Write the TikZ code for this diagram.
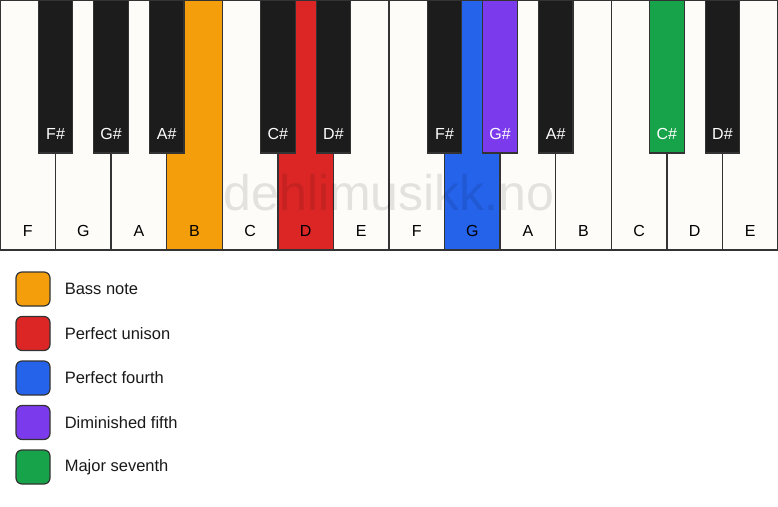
\documentclass[tikz,border=0pt]{standalone}
\usepackage{fontspec}
\setmainfont{Liberation Sans}
\usetikzlibrary{positioning}

\definecolor{keywhite}{HTML}{FDFCF9}
\definecolor{keyblack}{HTML}{1C1C1C}
\definecolor{keyline}{HTML}{333333}
\definecolor{bass}{HTML}{F59E0B}
\definecolor{unison}{HTML}{DC2626}
\definecolor{fourth}{HTML}{2563EB}
\definecolor{dimfifth}{HTML}{7C3AED}
\definecolor{majseventh}{HTML}{16A34A}

\tikzset{
  wkey/.style={draw=keyline, line width=1.4pt, minimum width=55.57pt, minimum height=250pt, inner sep=0pt},
  bkey/.style={draw=keyline, line width=1.2pt, minimum width=34.6pt, minimum height=153pt, inner sep=0pt},
  wname/.style={font=\fontsize{16}{16}\selectfont, text=black, inner sep=0pt},
  bname/.style={font=\fontsize{16}{16}\selectfont, text=white, inner sep=0pt},
  swatch/.style={draw=keyline, line width=1.2pt, rounded corners=6pt, minimum size=34pt, inner sep=0pt},
  legtext/.style={font=\fontsize{16.5}{16.5}\selectfont, text=black!90, inner sep=0pt}
}

\begin{document}
\begin{tikzpicture}[x=1pt,y=-1pt]
  \useasboundingbox (0,0) rectangle (778,506);
  \fill[white] (0,0) rectangle (778,506);

  % white keys
  \foreach \n/\c [count=\i] in {F/keywhite, G/keywhite, A/keywhite, B/bass, C/keywhite, D/unison, E/keywhite,
                               F/keywhite, G/fourth, A/keywhite, B/keywhite, C/keywhite, D/keywhite, E/keywhite} {
    \node[wkey, fill=\c] (w\i) at ({(\i-0.5)*55.571}, 125) {};
    \node[wname] (wl\i) at ([yshift=20pt]w\i.south) {\n};
  }

  % black keys
  \foreach \p/\n/\c in {1/F\#/keyblack, 2/G\#/keyblack, 3/A\#/keyblack, 5/C\#/keyblack, 6/D\#/keyblack,
                        8/F\#/keyblack, 9/G\#/dimfifth, 10/A\#/keyblack, 12/C\#/majseventh, 13/D\#/keyblack} {
    \node[bkey, fill=\c] (b\p) at ({\p*55.571}, 76.5) {};
    \node[bname] (bl\p) at ([yshift=20pt]b\p.south) {\n};
  }

  % watermark
  \node[font=\fontsize{50}{50}\selectfont, text=black, text opacity=0.1, inner sep=0pt] (mark) at (389, 193) {dehlimusikk.no};

  % legend
  \foreach \c/\t [count=\k] in {bass/Bass note, unison/Perfect unison, fourth/Perfect fourth,
                               dimfifth/Diminished fifth, majseventh/Major seventh} {
    \node[swatch, fill=\c] (s\k) at (33, {289+(\k-1)*44.5}) {};
    \node[legtext, right=14pt of s\k] (t\k) {\t};
  }
\end{tikzpicture}
\end{document}
